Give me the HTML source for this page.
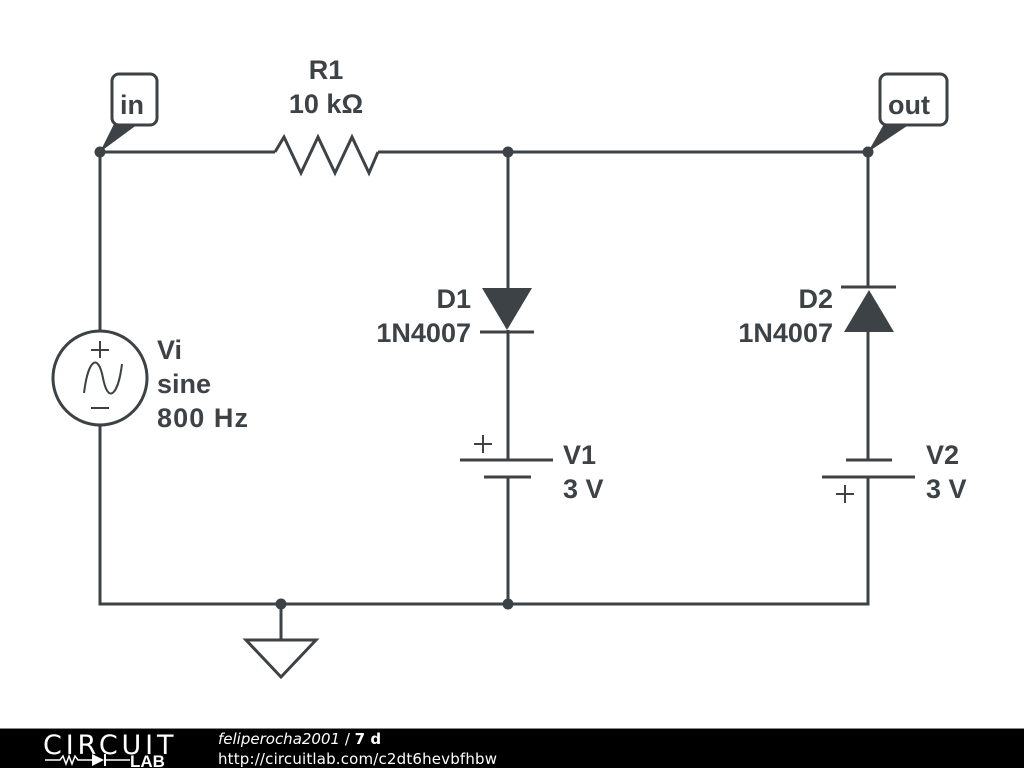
<!DOCTYPE html>
<html><head><meta charset="utf-8"><style>
html,body{margin:0;padding:0;background:#fff;}
svg{display:block;}
text{font-family:"Liberation Sans",sans-serif;font-weight:bold;fill:#3c4245;}
</style></head><body>
<svg width="1024" height="768" viewBox="0 0 1024 768" xmlns="http://www.w3.org/2000/svg">
<g stroke="#3c4245" stroke-width="3" fill="none" stroke-linejoin="miter">
<polyline points="100,331 100,152 275,152"/>
<polyline points="378,152 868,152 868,287"/>
<polyline points="100,425 100,604 868,604 868,477"/>
<line x1="868" y1="330" x2="868" y2="460"/>
<line x1="508" y1="152" x2="508" y2="290"/>
<line x1="508" y1="330" x2="508" y2="460"/>
<line x1="508" y1="477" x2="508" y2="604"/>
<polyline points="275,152 284,137 301,173 318,137 335,173 352,137 369,173 378,152"/>
<circle cx="100" cy="378" r="47"/>
<line x1="100" y1="341" x2="100" y2="358" stroke-width="2"/>
<line x1="91" y1="350" x2="109" y2="350" stroke-width="2"/>
<line x1="91" y1="408" x2="109" y2="408" stroke-width="2"/>
<path d="M84,393 C88,360 98,352 103,378 C108,404 118,396 122,364" stroke-width="2"/>
<line x1="480" y1="332" x2="534" y2="332"/>
<line x1="841" y1="287" x2="896" y2="287"/>
<line x1="460" y1="460" x2="553" y2="460"/>
<line x1="484" y1="477" x2="531" y2="477"/>
<line x1="846" y1="460" x2="892" y2="460"/>
<line x1="822" y1="477" x2="915" y2="477"/>
<line x1="483" y1="435" x2="483" y2="453" stroke-width="2"/>
<line x1="474" y1="444" x2="492" y2="444" stroke-width="2"/>
<line x1="845" y1="485" x2="845" y2="503" stroke-width="2"/>
<line x1="836" y1="494" x2="854" y2="494" stroke-width="2"/>
<line x1="281" y1="604" x2="281" y2="640"/>
<polygon points="246,640 316,640 281,677"/>
<rect x="112" y="74" width="45" height="51" rx="7"/>
<rect x="880" y="74" width="67" height="51" rx="7"/>
</g>
<g fill="#3c4245">
<polygon points="482,288 532,288 507,330"/>
<polygon points="844,332 894,332 869,290"/>
<polygon points="100,152 114,124 138,124"/>
<polygon points="868,152 884,124 910,124"/>
<circle cx="100" cy="152" r="5.5"/>
<circle cx="508" cy="152" r="5.5"/>
<circle cx="868" cy="152" r="5.5"/>
<circle cx="281" cy="604" r="5.5"/>
<circle cx="508" cy="604" r="5.5"/>
</g>
<g font-size="27">
<text x="120" y="114">in</text>
<text x="888" y="114">out</text>
<text x="326" y="79" text-anchor="middle">R1</text>
<text x="326" y="113" text-anchor="middle">10 kΩ</text>
<text x="157" y="359">Vi</text>
<text x="157" y="393">sine</text>
<text x="157" y="427" textLength="91">800 Hz</text>
<text x="471" y="308" text-anchor="end">D1</text>
<text x="471" y="342" text-anchor="end">1N4007</text>
<text x="833" y="308" text-anchor="end">D2</text>
<text x="833" y="342" text-anchor="end">1N4007</text>
<text x="563" y="464">V1</text>
<text x="563" y="498">3 V</text>
<text x="926" y="464">V2</text>
<text x="926" y="498">3 V</text>
</g>
<rect x="0" y="729" width="1024" height="39" fill="#000"/>
<rect x="0" y="728" width="1024" height="1" fill="#888"/>
<text x="43" y="754" font-size="27" style="font-weight:normal;fill:#fff;font-family:'DejaVu Sans',sans-serif;letter-spacing:-0.5px" textLength="130">CIRCUIT</text>
<polyline points="45,760 60,760 63,756 66,764 69,756 72,764 75,756 78,760 92,760" stroke="#fff" stroke-width="1.5" fill="none"/>
<polygon points="92,754 92,766 104,760" fill="#fff"/>
<line x1="105" y1="754" x2="105" y2="766" stroke="#fff" stroke-width="2"/>
<line x1="105" y1="760" x2="130" y2="760" stroke="#fff" stroke-width="1.5"/>
<text x="130" y="767" font-size="17" style="fill:#fff">LAB</text>
<text x="218" y="744" font-size="15" style="font-weight:normal;font-style:italic;fill:#fff;font-family:'DejaVu Sans',sans-serif">feliperocha2001 <tspan font-style="normal">/</tspan> <tspan font-style="normal" font-weight="bold">7 d</tspan></text>
<text x="218" y="764" font-size="15" style="font-weight:normal;fill:#fff;font-family:'DejaVu Sans',sans-serif" textLength="279">http://circuitlab.com/c2dt6hevbfhbw</text>
</svg>
</body></html>
